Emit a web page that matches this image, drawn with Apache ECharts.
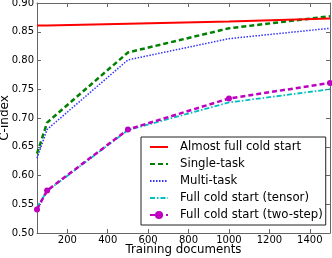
<!DOCTYPE html>
<html><head><meta charset="utf-8">
<script src="https://cdn.jsdelivr.net/npm/echarts@6/dist/echarts.min.js"></script>
<style>html,body{margin:0;padding:0;background:#fff}#c{width:332px;height:258px}</style>
</head><body><div id="c"></div>
<script>
var docs = [50, 100, 500, 1000, 1500];
var almostFull = [0.861, 0.861, 0.864, 0.868, 0.873];
var singleTask = [0.638, 0.692, 0.814, 0.856, 0.877];
var multiTask = [0.630, 0.680, 0.801, 0.838, 0.856];
var fullTensor = [0.545, 0.573, 0.679, 0.727, 0.750];
var fullTwoStep = [0.541, 0.574, 0.680, 0.734, 0.761];
var xTicks = [200, 400, 600, 800, 1000, 1200, 1400];
var names = ['Almost full cold start', 'Single-task', 'Multi-task', 'Full cold start (tensor)', 'Full cold start (two-step)'];

function pairs(v){ return docs.map(function(d,i){ return [d, v[i]]; }); }
var FONT = 'DejaVu Sans';
var frame = '#666';
var hidden = {color: 'rgba(0,0,0,0)', borderWidth: 0, opacity: 0};
var chart = echarts.init(document.getElementById('c'));
chart.setOption({
  animation: false,
  textStyle: {fontFamily: FONT},
  grid: {left: 37, right: 2, top: 3, bottom: 25, containLabel: false, outerBoundsMode: 'none'},
  xAxis: [{
    type: 'value', min: 50, max: 1500,
    name: 'Training documents', nameLocation: 'middle', nameGap: 11, nameMoveOverlap: false,
    nameTextStyle: {fontSize: 11.8, color: '#000', fontFamily: FONT, verticalAlign: 'top'},
    axisLine: {show: true, lineStyle: {color: frame, width: 1}},
    axisTick: {show: true, inside: true, length: 4, lineStyle: {color: frame}, customValues: xTicks},
    axisLabel: {fontSize: 10, color: '#000', margin: 2, customValues: xTicks, fontFamily: FONT,
                formatter: function(v){ return String(v); }},
    splitLine: {show: false}
  },{
    type: 'value', min: 50, max: 1500, position: 'top',
    axisLine: {show: true, lineStyle: {color: frame, width: 1}},
    axisTick: {show: true, inside: true, length: 4, lineStyle: {color: frame}, customValues: xTicks},
    axisLabel: {show: false}, splitLine: {show: false}
  }],
  yAxis: [{
    type: 'value', min: 0.5, max: 0.9, interval: 0.05,
    name: 'C-index', nameLocation: 'middle', nameGap: 26, nameMoveOverlap: false,
    nameTextStyle: {fontSize: 12, color: '#000', fontFamily: FONT},
    axisLine: {show: true, lineStyle: {color: frame, width: 1}},
    axisTick: {show: true, inside: true, length: 4, lineStyle: {color: frame}},
    axisLabel: {fontSize: 10, color: '#000', margin: 3, fontFamily: FONT, formatter: function(v){ return v.toFixed(2); }},
    splitLine: {show: false}
  },{
    type: 'value', min: 0.5, max: 0.9, interval: 0.05, position: 'right',
    axisLine: {show: true, lineStyle: {color: frame, width: 1}},
    axisTick: {show: true, inside: true, length: 4, lineStyle: {color: frame}},
    axisLabel: {show: false}, splitLine: {show: false}
  }],
  legend: {
    orient: 'vertical', left: 141, top: 137,
    backgroundColor: '#fff', borderColor: '#222', borderWidth: 1, borderRadius: 0,
    padding: [4, 3, 4, 8], itemWidth: 18, itemHeight: 10, itemGap: 5,
    textStyle: {fontSize: 11.7, lineHeight: 12, color: '#000', fontFamily: FONT, padding: [0, 0, 0, 7]},
    data: [
      {name: names[0], itemStyle: hidden},
      {name: names[1], itemStyle: hidden},
      {name: names[2], itemStyle: hidden},
      {name: names[3], itemStyle: hidden},
      {name: names[4]}
    ]
  },
  series: [
    {name: names[0], type: 'line', data: pairs(almostFull), showSymbol: false, symbol: 'none',
     lineStyle: {color: '#ff0000', width: 2}, itemStyle: {color: '#ff0000'}, z: 5},
    {name: names[1], type: 'line', data: pairs(singleTask), showSymbol: false, symbol: 'none',
     lineStyle: {color: '#008000', width: 2.5, type: [5, 3]}, itemStyle: {color: '#008000'}},
    {name: names[2], type: 'line', data: pairs(multiTask), showSymbol: false, symbol: 'none',
     lineStyle: {color: '#3333ff', width: 1.5, type: [1.5, 1.5]}, itemStyle: {color: '#3333ff'}},
    {name: names[3], type: 'line', data: pairs(fullTensor), showSymbol: false, symbol: 'none',
     lineStyle: {color: '#00bfbf', width: 1.8, type: [5, 2, 1.5, 2]}, itemStyle: {color: '#00bfbf'}},
    {name: names[4], type: 'line', data: pairs(fullTwoStep), symbol: 'circle', symbolSize: 6, showSymbol: true,
     lineStyle: {color: '#bf00bf', width: 2.5, type: [5, 3]}, itemStyle: {color: '#bf00bf'}}
  ]
});
</script></body></html>
